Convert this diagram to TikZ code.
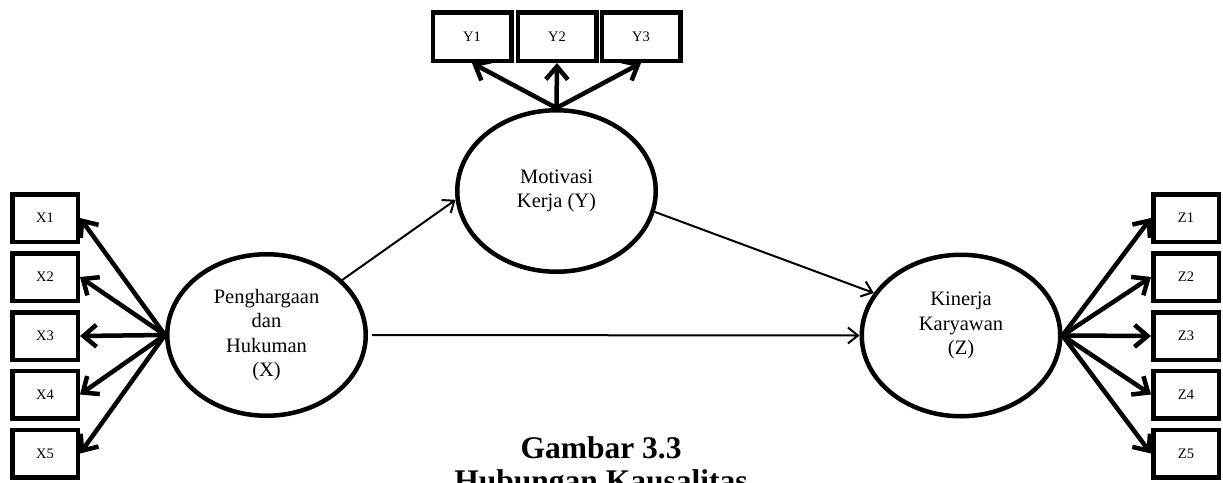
\documentclass[tikz,border=0pt]{standalone}
\usepackage{fontspec}
\setmainfont{Liberation Serif}
\usetikzlibrary{arrows.meta,shapes.geometric}
\begin{document}
\begin{tikzpicture}[x=1pt,y=-1pt,
  ind/.style={draw, line width=4.5pt, minimum width=65.5pt, minimum height=47.5pt, inner sep=0pt, font=\fontsize{14.5}{16}\selectfont},
  indy/.style={ind, minimum width=78.5pt, minimum height=48.5pt},
  lat/.style={draw, ellipse, line width=4.5pt, minimum width=198.5pt, minimum height=161.5pt, inner sep=0pt, align=center, font=\fontsize{20.5}{24.5}\selectfont},
  lattext/.style={align=center, inner sep=0pt, font=\fontsize{20.5}{24.5}\selectfont},
  load/.style={line width=4.5pt, -{Straight Barb[length=13pt,width=22pt]}},
  rel/.style={line width=2pt, -{Straight Barb[length=10pt,width=16pt]}},
  captext/.style={anchor=base, inner sep=0pt, font=\fontsize{31.5}{36}\bfseries\selectfont},
]
\path[use as bounding box, clip] (0,0) rectangle (1223,482);

% latent variables
\node[lat] (X) at (266.5,335) {Penghargaan\\dan\\Hukuman\\(X)};
\node[lat] (Y) at (556.5,191) {Motivasi\\Kerja (Y)};
\node[lat] (Z) at (961,335.5) {};
\node[lattext] (Zt) at ([yshift=10pt]Z.center) {Kinerja\\Karyawan\\(Z)};

% X indicators
\node[ind] (X1) at (45,218) {X1};
\node[ind] (X2) at (45,277) {X2};
\node[ind] (X3) at (45,336) {X3};
\node[ind] (X4) at (45,394.5) {X4};
\node[ind] (X5) at (45,453.5) {X5};

% Z indicators
\node[ind] (Z1) at (1186,218) {Z1};
\node[ind] (Z2) at (1186,277) {Z2};
\node[ind] (Z3) at (1186,336) {Z3};
\node[ind] (Z4) at (1186,394.5) {Z4};
\node[ind] (Z5) at (1186,453.5) {Z5};

% Y indicators
\node[indy] (Y1) at (472,36.5) {Y1};
\node[indy] (Y2) at (557,36.5) {Y2};
\node[indy] (Y3) at (641,36.5) {Y3};

% loadings
\foreach \i in {1,...,5} {
  \draw[load] (X.west) -- (X\i.east);
  \draw[load] (Z.east) -- (Z\i.west);
}
\foreach \i in {1,2,3} {
  \draw[load] (Y.north) -- (Y\i.south);
}

% structural paths
\draw[rel] (X.36) -- (Y.185);
\draw[rel] (Y.-12) -- (Z.154);
\draw[rel, shorten <=4pt] (X.east) -- (Z.west);

% caption
\node[captext] (cap1) at (601,458) {Gambar 3.3};
\node[captext] (cap2) at (601,491) {Hubungan Kausalitas};
\end{tikzpicture}
\end{document}
